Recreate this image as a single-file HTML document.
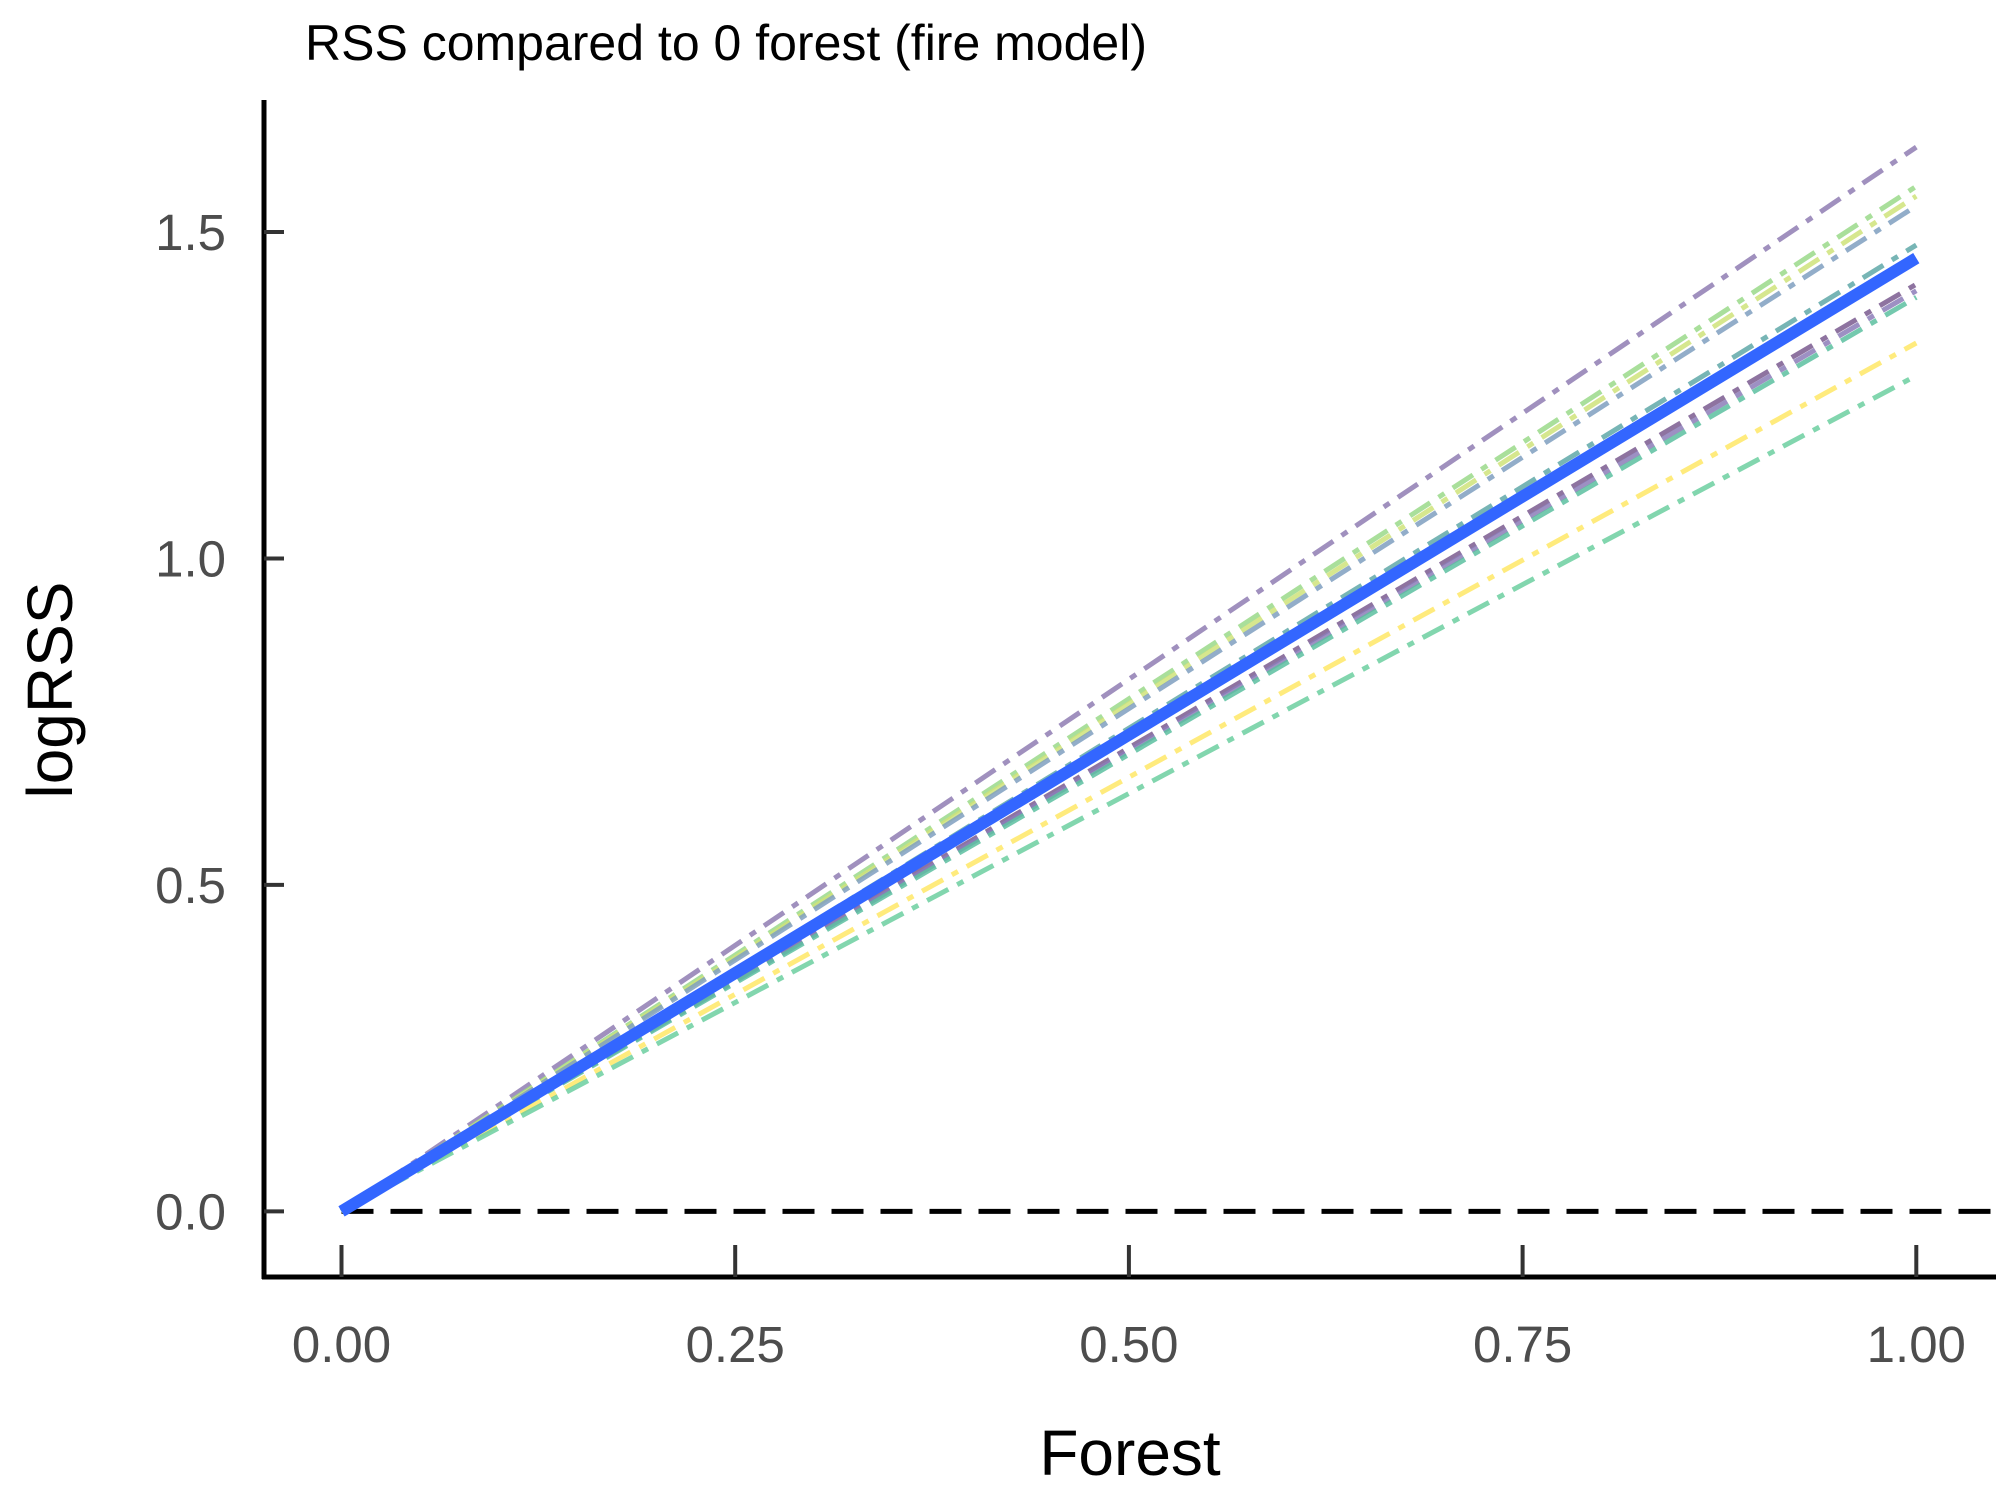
<!DOCTYPE html>
<html><head><meta charset="utf-8"><style>
body{margin:0;background:#fff;}
svg{display:block;font-family:"Liberation Sans",sans-serif;}
</style></head><body>
<svg id="chart" width="2000" height="1500" viewBox="0 0 2000 1500">
<text x="305" y="60" font-size="50" fill="#000">RSS compared to 0 forest (fire model)</text>
<text transform="translate(72,690) rotate(-90)" text-anchor="middle" font-size="64" fill="#000">logRSS</text>
<text x="1130" y="1475" text-anchor="middle" font-size="64" fill="#000">Forest</text>
<g id="grid"></g>
<g id="series"></g>
<g id="axes"></g>
</svg>
<script>
const xTicks=[0,0.25,0.5,0.75,1];
const xTickLabels=["0.00","0.25","0.50","0.75","1.00"];
const yTicks=[0,0.5,1,1.5];
const yTickLabels=["0.0","0.5","1.0","1.5"];
const seriesSlopes=[1.63,1.57,1.555,1.54,1.48,1.42,1.41,1.40,1.33,1.28];
const seriesColors=["#8f7cb3","#9ad98a","#cfe37a","#7f9fbf","#5fa8a8","#7a5a8f","#8c7cb8","#5cc0a0","#ffe866","#6ccfa0"];
const meanSlope=[1.46];
const lineX=[0,1];
const X=v=>341.5+v*(1916.3-341.5);
const Y=v=>1211.4-v*(1211.4-232)/1.5;
const NS="http://www.w3.org/2000/svg";
const mk=(t,a,p)=>{const e=document.createElementNS(NS,t);for(const k in a)e.setAttribute(k,a[k]);p.appendChild(e);return e;};
const ser=document.getElementById('series'),ax=document.getElementById('axes'),gr=document.getElementById('grid');
const z=mk('line',{x1:X(0),x2:1996,y1:Y(0),y2:Y(0),stroke:"#000","stroke-width":5,"stroke-dasharray":"32 17"},gr);


seriesSlopes.forEach((s,i)=>{
 const l=mk('line',{x1:X(lineX[0]),y1:Y(s*lineX[0]),x2:X(lineX[1]),y2:Y(s*lineX[1]),stroke:seriesColors[i],"stroke-width":5,"stroke-opacity":0.85,"stroke-dasharray":"24 10 7 10"},ser);
 
 
});
meanSlope.forEach(s=>{
 const l=mk('line',{x1:X(lineX[0]),y1:Y(s*lineX[0]),x2:X(lineX[1]),y2:Y(s*lineX[1]),stroke:"#3366ff","stroke-width":12},ser);
 
 
});
const ya=mk('line',{x1:264,y1:100,x2:264,y2:1279,stroke:"#000","stroke-width":5},ax);


const xa=mk('line',{x1:262,y1:1277,x2:1996,y2:1277,stroke:"#000","stroke-width":5},ax);


xTicks.forEach((v,i)=>{
 const t=mk('line',{x1:X(v),x2:X(v),y1:1245,y2:1277,stroke:"#333","stroke-width":4},ax);
 
 
 const l=mk('text',{x:X(v),y:1362,"text-anchor":"middle","font-size":51,fill:"#4d4d4d"},ax);
 l.textContent=xTickLabels[i];
 
 
});
yTicks.forEach((v,i)=>{
 const t=mk('line',{x1:264,x2:284,y1:Y(v),y2:Y(v),stroke:"#333","stroke-width":4},ax);
 
 
 const l=mk('text',{x:226,y:Y(v)+18,"text-anchor":"end","font-size":51,fill:"#4d4d4d"},ax);
 l.textContent=yTickLabels[i];
 
 
});
</script>
</body></html>
